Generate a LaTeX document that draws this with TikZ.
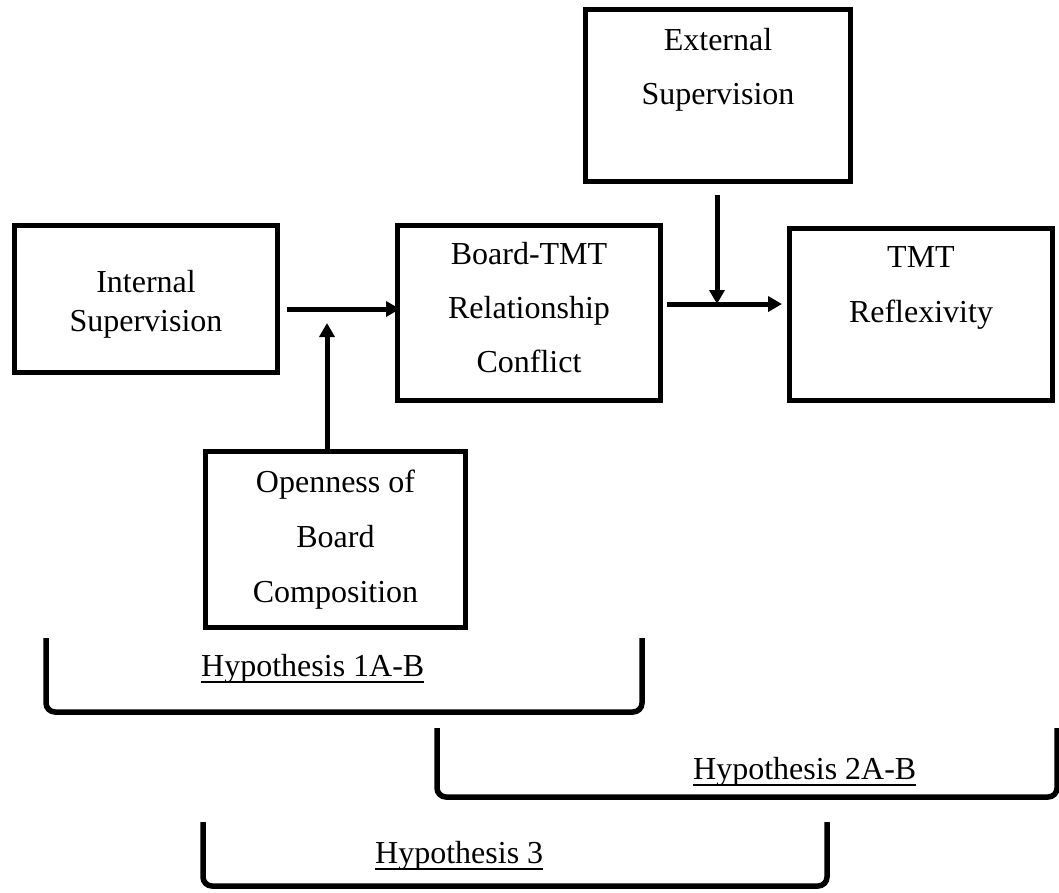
\documentclass[tikz,border=0pt]{standalone}
\usepackage{fontspec}
\setmainfont{Liberation Serif}
\usetikzlibrary{arrows.meta}

% text box of given width/height, first baseline offset and line skip
\newcommand{\boxlines}[5]{\parbox[c][#2pt][t]{#1pt}{\centering\baselineskip=#4pt\lineskiplimit=-100pt\rule{0pt}{#3pt}#5\par}}
\newcommand{\hypul}[1]{\setbox0=\hbox{#1}\rlap{\rule[-7pt]{\wd0}{2pt}}\box0}

\tikzset{
  varbox/.style={draw, line width=5pt, inner sep=0pt, anchor=north west,
                 font=\fontsize{32}{38}\selectfont},
  arr/.style={line width=5pt, -{Triangle[length=14pt,width=15pt]}},
  bracket/.style={line width=5.5pt, rounded corners=9pt},
  hyplabel/.style={anchor=base west, inner sep=0pt, font=\fontsize{32}{38}\selectfont}
}

\begin{document}
\begin{tikzpicture}[x=1pt,y=-1pt]
\useasboundingbox (0,0) rectangle (1059,892);

% variables
\node[varbox] (extsup) at (583,7) {\boxlines{265}{172}{41}{54}{External\\Supervision}};
\node[varbox] (intsup) at (12,223) {\boxlines{263}{147}{67}{39}{Internal\\Supervision}};
\node[varbox] (conflict) at (395,223) {\boxlines{263}{175}{39}{54}{Board-TMT\\Relationship\\Conflict}};
\node[varbox] (reflex) at (787,226) {\boxlines{263}{172}{39}{55}{TMT\\Reflexivity}};
\node[varbox] (open) at (203,449) {\boxlines{260}{176}{41}{55}{Openness of\\Board\\Composition}};

% moderation points
\coordinate (m1) at (327,309);
\coordinate (m2) at (717,304);

% paths
\draw[arr, shorten <=7pt, shorten >=-5pt] (intsup.east |- m1) -- (conflict.west |- m1);
\draw[arr, shorten >=14pt] (open.north -| m1) -- (m1);
\draw[arr, shorten <=4pt, shorten >=5pt] (conflict.east |- m2) -- (reflex.west |- m2);
\draw[arr, shorten <=11pt] (extsup.south -| m2) -- (m2);

% hypotheses
\draw[bracket] (46,638) -- (46,712) -- (642,712) -- (642,638);
\node[hyplabel] (hyp1) at (201,676) {\hypul{Hypothesis 1A-B}};
\draw[bracket] (437,728) -- (437,797) -- (1057,797) -- (1057,728);
\node[hyplabel] (hyp2) at (693,779) {\hypul{Hypothesis 2A-B}};
\draw[bracket] (203,822) -- (203,886) -- (827,886) -- (827,822);
\node[hyplabel] (hyp3) at (375,863) {\hypul{Hypothesis 3}};
\end{tikzpicture}
\end{document}
